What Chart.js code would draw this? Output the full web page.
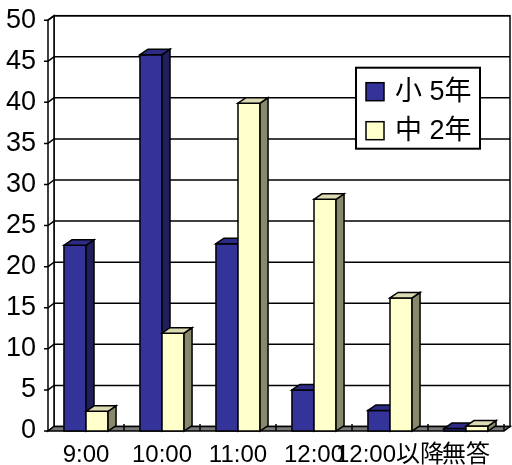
<!DOCTYPE html>
<html>
<head>
<meta charset="utf-8">
<script src="https://cdn.jsdelivr.net/npm/chart.js@4.4.1/dist/chart.umd.min.js"></script>
<style>
  html, body { margin: 0; padding: 0; background: #fff; }
  #wrap { width: 512px; height: 465px; position: relative; }
</style>
</head>
<body>
<div id="wrap"><canvas id="c"></canvas></div>
<script>
// 登校時刻の分布（%）
const categories = ['9:00', '10:00', '11:00', '12:00', '12:00以降', '無答'];
const seriesNames = ['小 5年', '中 2年'];
const grade5Values = [22.6, 45.8, 22.8, 5.0, 2.5, 0.3];
const grade2Values = [2.4, 11.9, 39.9, 28.2, 16.2, 0.6];
const yTicks = [0, 5, 10, 15, 20, 25, 30, 35, 40, 45, 50];

// face colours: front, side, top
const palette = [
  { front: '#333399', side: '#1f1f5c', top: '#2c2c86' },
  { front: '#ffffcc', side: '#88886c', top: '#dcdab2' }
];

const BAR_DX = 8, BAR_DY = -5.5;   // bar depth
const WALL_DX = 6, WALL_DY = -4.5; // wall depth
const FONT = '"Liberation Sans", Arial, "Noto Sans CJK JP", sans-serif';

function poly(ctx, pts, fill) {
  ctx.beginPath();
  ctx.moveTo(pts[0][0], pts[0][1]);
  for (let i = 1; i < pts.length; i++) ctx.lineTo(pts[i][0], pts[i][1]);
  ctx.closePath();
  if (fill) { ctx.fillStyle = fill; ctx.fill(); }
  ctx.stroke();
}

// 3D box bars: walls, floor, gridlines, then each column as front/side/top faces
const boxPlugin = {
  id: 'box3d',
  beforeDatasetsDraw(chart) {
    const { ctx, chartArea: a, scales } = chart;
    const ys = scales.y;
    const L = a.left, R = a.right, T = ys.getPixelForValue(50), B = ys.getPixelForValue(0);
    ctx.save();
    ctx.lineWidth = 1.5;
    ctx.strokeStyle = '#000';
    ctx.lineJoin = 'miter';
    // back wall
    ctx.strokeRect(L + WALL_DX, T + WALL_DY, R - L, B - T);
    // left wall
    poly(ctx, [[L, B], [L, T], [L + WALL_DX, T + WALL_DY], [L + WALL_DX, B + WALL_DY]], '#fff');
    // gridlines
    yTicks.forEach(v => {
      if (v === 0) return;
      const y = ys.getPixelForValue(v);
      ctx.beginPath();
      ctx.moveTo(L - 4, y);
      ctx.lineTo(L, y);
      ctx.lineTo(L + WALL_DX, y + WALL_DY);
      ctx.lineTo(R + WALL_DX, y + WALL_DY);
      ctx.stroke();
    });
    ctx.beginPath(); ctx.moveTo(L - 4, B); ctx.lineTo(L, B); ctx.stroke();
    // floor
    poly(ctx, [[L, B], [R, B], [R + WALL_DX, B + WALL_DY], [L + WALL_DX, B + WALL_DY]], '#7a7a7a');
    // category separators on the floor
    const step = (R - L) / categories.length;
    for (let i = 1; i <= categories.length; i++) {
      const x = L + step * i;
      ctx.beginPath();
      ctx.moveTo(x, B);
      ctx.lineTo(x, B - 7);
      ctx.stroke();
    }
    ctx.restore();
  },
  afterDatasetsDraw(chart) {
    const { ctx } = chart;
    ctx.save();
    ctx.lineWidth = 1.5;
    ctx.strokeStyle = '#000';
    ctx.lineJoin = 'miter';
    const n = categories.length;
    for (let i = 0; i < n; i++) {
      chart.data.datasets.forEach((ds, di) => {
        const bar = chart.getDatasetMeta(di).data[i];
        const col = palette[di];
        const p = bar.getProps(['x', 'y', 'base', 'width'], true);
        const l = p.x - p.width / 2, r = p.x + p.width / 2, t = p.y, b = p.base;
        poly(ctx, [[l, t], [r, t], [r, b], [l, b]], col.front);
        poly(ctx, [[r, t], [r + BAR_DX, t + BAR_DY], [r + BAR_DX, b + BAR_DY], [r, b]], col.side);
        poly(ctx, [[l, t], [l + BAR_DX, t + BAR_DY], [r + BAR_DX, t + BAR_DY], [r, t]], col.top);
      });
    }
    ctx.restore();
  },
  afterDraw(chart) {
    // legend box
    const { ctx, chartArea: a } = chart;
    const bx = a.right - 148, by = a.top + 47.5, bw = 124, bh = 81;
    ctx.save();
    ctx.fillStyle = '#fff';
    ctx.fillRect(bx, by, bw, bh);
    ctx.lineWidth = 2;
    ctx.strokeStyle = '#000';
    ctx.strokeRect(bx, by, bw, bh);
    ctx.font = '27px ' + FONT;
    ctx.textBaseline = 'middle';
    ctx.textAlign = 'left';
    chart.data.datasets.forEach((ds, i) => {
      const cy = by + 24 + i * 39;
      ctx.fillStyle = palette[i].front;
      ctx.lineWidth = 1.5;
      ctx.fillRect(bx + 10, cy - 9, 18, 18);
      ctx.strokeRect(bx + 10, cy - 9, 18, 18);
      ctx.fillStyle = '#000';
      ctx.fillText(ds.label, bx + 39, cy + 1);
    });
    ctx.restore();
  }
};

new Chart(document.getElementById('c'), {
  type: 'bar',
  data: {
    labels: categories,
    datasets: [
      { label: seriesNames[0], data: grade5Values, backgroundColor: 'rgba(0,0,0,0)', borderWidth: 0 },
      { label: seriesNames[1], data: grade2Values, backgroundColor: 'rgba(0,0,0,0)', borderWidth: 0 }
    ]
  },
  options: {
    responsive: true,
    maintainAspectRatio: false,
    animation: false,
    devicePixelRatio: 1,
    layout: { padding: { top: 15.5, right: 8, left: 0, bottom: 0 } },
    categoryPercentage: 0.58,
    barPercentage: 1.0,
    plugins: { legend: { display: false }, tooltip: { enabled: false } },
    scales: {
      x: {
        grid: { display: false },
        border: { display: false },
        ticks: { color: '#000', font: { size: 24, family: FONT }, padding: 2,
                 maxRotation: 0, minRotation: 0, autoSkip: false },
        afterFit: s => { s.height = 34; }
      },
      y: {
        min: 0, max: 50,
        grid: { display: false },
        border: { display: false },
        afterBuildTicks: s => { s.ticks = yTicks.map(v => ({ value: v })); },
        ticks: { color: '#000', font: { size: 27, family: FONT }, padding: 4 },
        afterFit: s => { s.width = 48; }
      }
    }
  },
  plugins: [boxPlugin]
});
</script>
</body>
</html>
